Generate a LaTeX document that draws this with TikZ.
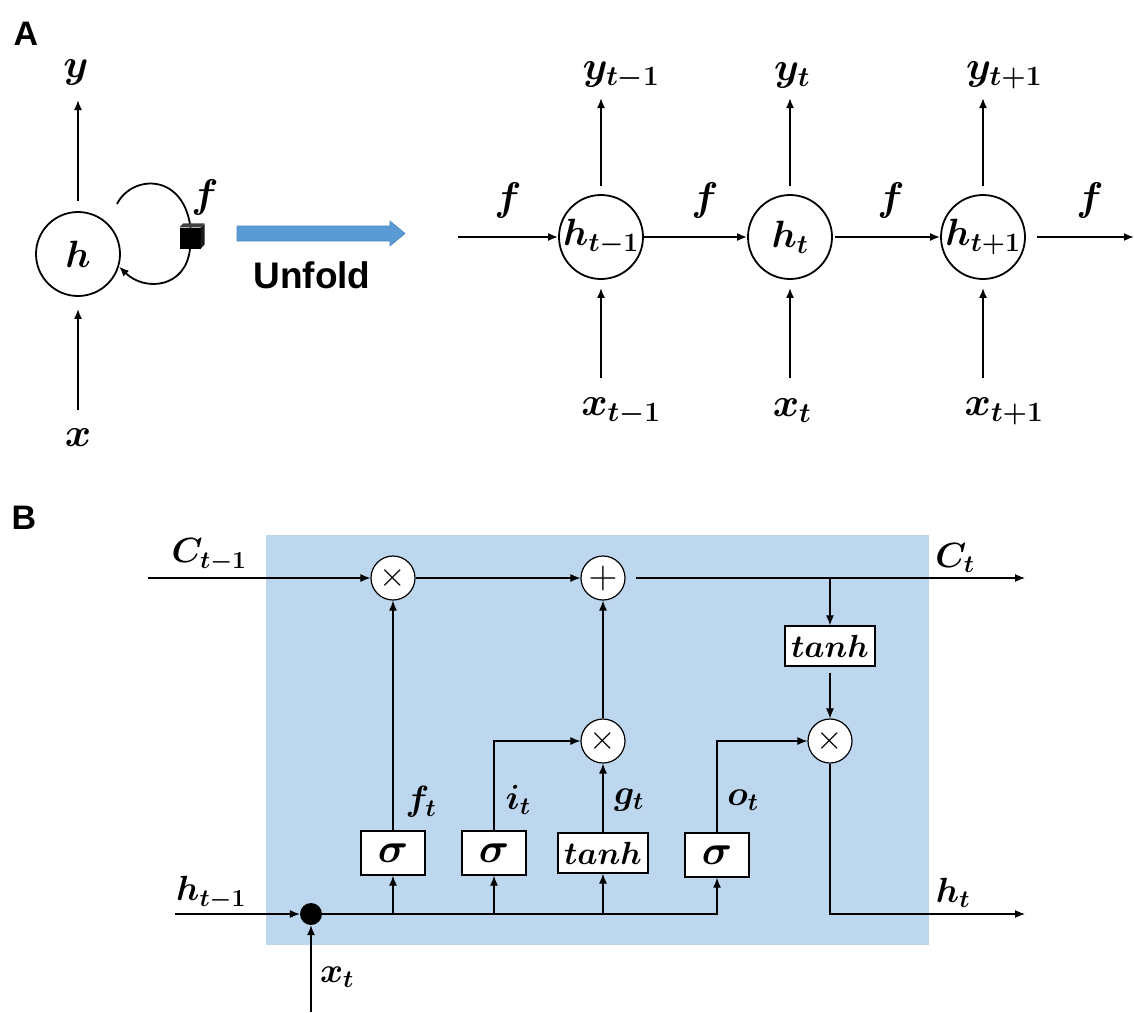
\RequirePackage{fix-cm}
\documentclass[tikz,border=0pt]{standalone}
\usepackage{fontspec}
\newfontfamily\arialfam{Liberation Sans}
\usetikzlibrary{arrows.meta}
\definecolor{panelblue}{HTML}{BDD7EE}
\definecolor{arrowblue}{HTML}{5B9BD5}
\definecolor{arrowedge}{HTML}{4A86C0}
\begin{document}
\begin{tikzpicture}[x=1pt,y=-1pt,
  arrA/.style={line width=1.8pt,-{Latex[length=10pt,width=8pt]}},
  lineA/.style={line width=1.8pt},
  arrB/.style={line width=1.1pt,-{Latex[length=10pt,width=8pt]}},
  labA/.style={font=\fontsize{40}{46}\selectfont\boldmath, inner sep=0pt},
  labB/.style={font=\fontsize{35}{40}\selectfont\boldmath, inner sep=0pt},
  cellA/.style={circle, draw, line width=1.8pt, minimum size=84pt, inner sep=0pt, font=\fontsize{38}{44}\selectfont\boldmath},
  opB/.style={circle, draw, line width=1.2pt, fill=white, minimum size=44pt, inner sep=0pt, font=\fontsize{34}{40}\selectfont},
  gateB/.style={rectangle, draw, line width=1.4pt, fill=white, minimum width=64pt, minimum height=44pt, inner sep=0pt, font=\fontsize{42}{46}\selectfont\boldmath},
  tanhB/.style={gateB, minimum width=90pt, minimum height=40pt, font=\fontsize{32}{36}\selectfont\boldmath},
  panel/.style={font=\arialfam\bfseries\fontsize{34}{40}\selectfont, inner sep=0pt}
]
\useasboundingbox (0,0) rectangle (1134,1012);

% ---------------- Panel A ----------------
\node[panel] (labA) at (26,34) {A};

\node[cellA] (h) at (78,254) {$h$};
\node[labA] (ylab) at (76,72) {$y$};
\node[labA] (xlab) at (78,438) {$x$};
\coordinate (yTip) at (78,100);
\coordinate (xTail) at (78,410);
\draw[arrA, shorten <=10pt] (h) -- (yTip);
\draw[arrA, shorten >=12pt] (xTail) -- (h);

% recurrent loop
\coordinate (loopS) at (117,204);
\draw[lineA] (loopS) .. controls (132,174) and (186,172) .. (191,232);
\node[fill=black, minimum size=21pt, inner sep=0pt] (cube) at (190,238) {};
\fill[black!75] (cube.north west) -- ++(4,-4) -- ++(21,0) -- (cube.north east) -- cycle;
\fill[black!90] (cube.north east) -- ++(4,-4) -- ++(0,21) -- (cube.south east) -- cycle;
\draw[arrA] (cube.south) .. controls (186,288) and (145,292) .. (h.-17);
\node[labA] (flab) at (205,197) {$f$};

% Unfold arrow
\filldraw[fill=arrowblue, draw=arrowedge, line width=0.6pt]
  (237,226) -- (390,226) -- (390,221) -- (405,233.5) -- (390,246) -- (390,241) -- (237,241) -- cycle;
\node[font=\arialfam\bfseries\fontsize{37}{42}\selectfont, inner sep=0pt] (unfold) at (312,275) {Unfold};

% unfolded chain
\node[cellA] (hm) at (601,237) {$h_{t-1}$};
\node[cellA] (h0) at (790,237) {$h_{t}$};
\node[cellA] (hp) at (983,237) {$h_{t+1}$};

\coordinate (inL) at (458,237);
\coordinate (outR) at (1134,237);
\draw[arrA] (inL) -- (hm.west);
\draw[arrA] (hm.east) -- (h0.west);
\draw[arrA, shorten <=2pt] (h0.east) -- (hp.west);
\draw[arrA, shorten <=11pt] (hp.east) -- (outR);

\node[labA] (f1) at (508,200) {$f$};
\node[labA] (f2) at (705,200) {$f$};
\node[labA] (f3) at (891,200) {$f$};
\node[labA] (f4) at (1090,200) {$f$};

\node[labA] (ym) at (621,75) {$y_{t-1}$};
\node[labA] (y0) at (792,75) {$y_{t}$};
\node[labA] (yp) at (1004,75) {$y_{t+1}$};
\node[labA] (xm) at (621,411) {$x_{t-1}$};
\node[labA] (x0) at (792,411) {$x_{t}$};
\node[labA] (xp) at (1004,411) {$x_{t+1}$};

\coordinate (ymT) at (601,98);
\coordinate (y0T) at (790,98);
\coordinate (ypT) at (983,98);
\coordinate (xmT) at (601,378);
\coordinate (x0T) at (790,378);
\coordinate (xpT) at (983,378);
\draw[arrA, shorten <=8pt] (hm) -- (ymT);
\draw[arrA, shorten <=8pt] (h0) -- (y0T);
\draw[arrA, shorten <=8pt] (hp) -- (ypT);
\draw[arrA, shorten >=8pt] (xmT) -- (hm);
\draw[arrA, shorten >=8pt] (x0T) -- (h0);
\draw[arrA, shorten >=8pt] (xpT) -- (hp);

% ---------------- Panel B ----------------
\node[panel] (labB) at (24,518) {B};
\fill[panelblue] (266,535) rectangle (929,945);

\node[opB] (mul1) at (393,578) {$\times$};
\node[opB, font=\fontsize{40}{44}\selectfont] (add)  at (603,578) {$+$};
\node[opB] (mul2) at (603,741) {$\times$};
\node[opB] (mul3) at (830,741) {$\times$};
\node[tanhB] (tanhC) at (830,646) {$tanh$};
\node[gateB] (sig1) at (393,853) {$\sigma$};
\node[gateB] (sig2) at (494,853) {$\sigma$};
\node[tanhB] (tanhG) at (603,853) {$tanh$};
\node[gateB] (sig3) at (717,855) {$\sigma$};
\node[circle, fill=black, minimum size=22pt, inner sep=0pt] (dot) at (311,914) {};

\coordinate (Cin) at (148,578);
\coordinate (Cout) at (1025,578);
\coordinate (br) at (830,578);
\coordinate (hin) at (175,914);
\coordinate (hout) at (1025,914);
\coordinate (xin) at (311,1012);

\draw[arrB] (Cin) -- (mul1);
\draw[arrB] (mul1) -- (add);
\draw[arrB, shorten <=10pt] (add.east) -- (Cout);
\draw[arrB] (br) -- (tanhC.north);
\draw[arrB, shorten <=6pt] (tanhC.south) -- (mul3.north);
\draw[arrB] (sig1.north) -- (mul1.south);
\draw[arrB] (sig2.north) |- (mul2.west);
\draw[arrB] (tanhG.north) -- (mul2.south);
\draw[arrB] (mul2.north) -- (add.south);
\draw[arrB] (sig3.north) |- (mul3.west);
\draw[arrB] (mul3.south) |- (hout);
\draw[arrB] (hin) -- (dot);
\draw[arrB] (xin) -- (dot);
\draw[arrB, line width=1.4pt] (dot.east) -| (sig3.south);
\draw[arrB] (sig1.south |- dot) -- (sig1.south);
\draw[arrB] (sig2.south |- dot) -- (sig2.south);
\draw[arrB] (tanhG.south |- dot) -- (tanhG.south);

\node[labB] (lCin) at (209,555) {$C_{t-1}$};
\node[labB] (lCout) at (955,558) {$C_{t}$};
\node[labB] (lhin) at (211,893) {$h_{t-1}$};
\node[labB] (lhout) at (953,893) {$h_{t}$};
\node[labB] (lxt) at (337,977) {$x_{t}$};
\node[labB] (lft) at (421,802) {$f_{t}$};
\node[labB] (lit) at (518,800) {$i_{t}$};
\node[labB] (lgt) at (629,800) {$g_{t}$};
\node[labB] (lot) at (743,800) {$o_{t}$};
\end{tikzpicture}
\end{document}
